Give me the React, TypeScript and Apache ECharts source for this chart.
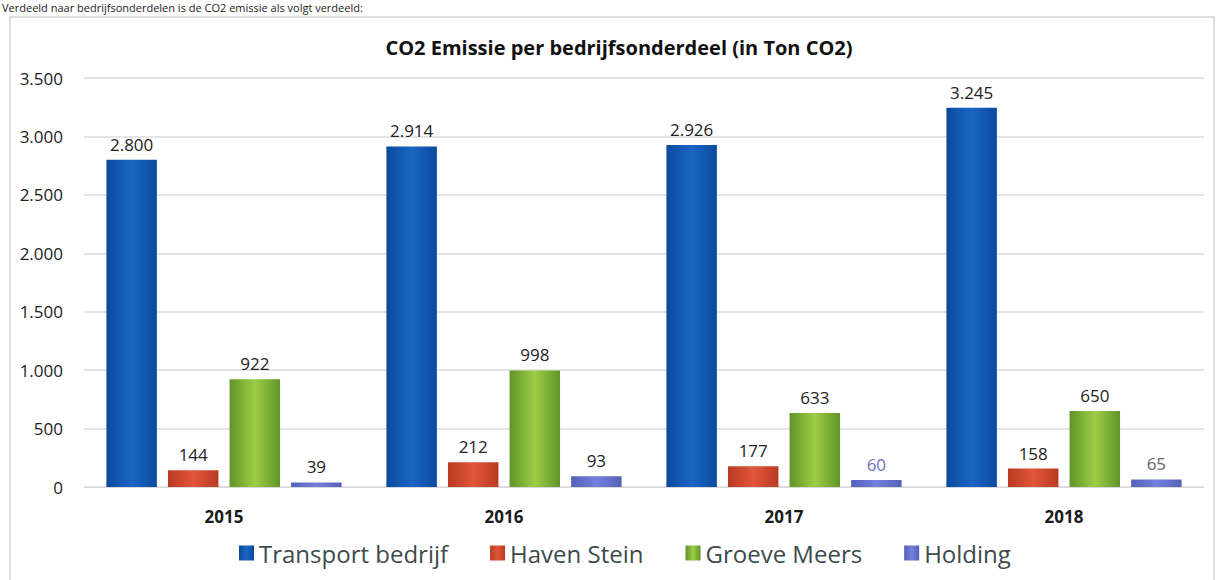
import React, { useEffect, useRef } from "react";
import * as echarts from "echarts";

const categories = ["2015", "2016", "2017", "2018"];
const seriesNames = ["Transport bedrijf", "Haven Stein", "Groeve Meers", "Holding"];
const transport = [2800, 2914, 2926, 3245];
const haven = [144, 212, 177, 158];
const groeve = [922, 998, 633, 650];
const holding = [39, 93, 60, 65];
const yTicks = [0, 500, 1000, 1500, 2000, 2500, 3000, 3500];

const fmt = (v: number) => String(Math.round(v)).replace(/\B(?=(\d{3})+(?!\d))/g, ".");

const hGrad = (edge: string, mid: string) =>
  new echarts.graphic.LinearGradient(0, 0, 1, 0, [
    { offset: 0, color: edge },
    { offset: 0.5, color: mid },
    { offset: 1, color: edge },
  ]);

export default function App() {
  const ref = useRef<HTMLDivElement>(null);
  useEffect(() => {
    if (!ref.current) return;
    const chart = echarts.init(ref.current, null, { renderer: "svg" });
    const font = "'Open Sans', 'Noto Sans', sans-serif";
    const labelBase = {
      show: true,
      position: "top" as const,
      distance: 7,
      fontSize: 17,
      fontFamily: font,
      color: "#222",
      formatter: (p: any) => fmt(p.value),
    };
    const holdingLabelColors = ["#222", "#222", "#6a6fc4", "#666"];
    const colors = ["#1565c0", "#d9482b", "#8cc43c", "#6a74d0"];
    const styles = [
      hGrad("#0b4a9c", "#1a66c4"),
      hGrad("#b83a22", "#e2553a"),
      hGrad("#5f9528", "#9dcc45"),
      hGrad("#5560b8", "#7480dc"),
    ];
    const dataSets = [transport, haven, groeve, holding];
    chart.setOption({
      animation: false,
      backgroundColor: "#ffffff",
      title: {
        text: "CO2 Emissie per bedrijfsonderdeel (in Ton CO2)",
        left: 614,
        top: 32,
        textAlign: "center",
        textStyle: { fontFamily: font, fontSize: 20, fontWeight: "bold", color: "#111" },
      },
      graphic: [
        {
          type: "rect",
          shape: { x: 10, y: 17, width: 1204, height: 570 },
          style: { fill: "none", stroke: "#d6d6d6", lineWidth: 1.5 },
          silent: true,
        },
        {
          type: "text",
          left: 2,
          top: 2,
          style: {
            text: "Verdeeld naar bedrijfsonderdelen is de CO2 emissie als volgt verdeeld:",
            fontFamily: font,
            fontSize: 11,
            fill: "#222",
          },
          silent: true,
        },
      ],
      legend: {
        data: seriesNames,
        bottom: 10,
        left: 234,
        icon: "rect",
        itemWidth: 15,
        itemHeight: 15,
        itemGap: 42,
        textStyle: { fontFamily: font, fontSize: 24, color: "#3c4c4c" },
      },
      grid: { left: 84, right: 13, top: 78, bottom: 93, containLabel: false },
      xAxis: {
        type: "category",
        data: categories,
        axisLine: { show: true, lineStyle: { color: "#d9d9d9" } },
        axisTick: { show: false },
        axisLabel: {
          fontFamily: font,
          fontSize: 17,
          fontWeight: "bold",
          color: "#1a1a1a",
          margin: 21,
        },
      },
      yAxis: {
        type: "value",
        min: yTicks[0],
        max: yTicks[yTicks.length - 1],
        interval: 500,
        axisLine: { show: false },
        axisTick: { show: false },
        splitLine: { lineStyle: { color: "#dcdcdc", width: 1.5 } },
        axisLabel: {
          fontFamily: font,
          fontSize: 17,
          color: "#222",
          margin: 21,
          formatter: (v: number) => fmt(v),
        },
      },
      series: seriesNames.map((name, si) => ({
        name,
        type: "bar",
        barGap: "22%",
        barCategoryGap: "16%",
        itemStyle: { color: styles[si] },
        label: labelBase,
        data: dataSets[si].map((v, i) =>
          si === 3 ? { value: v, label: { color: holdingLabelColors[i] } } : v
        ),
      })),
      color: colors,
    });
    return () => chart.dispose();
  }, []);
  return (
    <div
      ref={ref}
      style={{ position: "absolute", left: 0, top: 0, width: 1217, height: 580 }}
    />
  );
}
